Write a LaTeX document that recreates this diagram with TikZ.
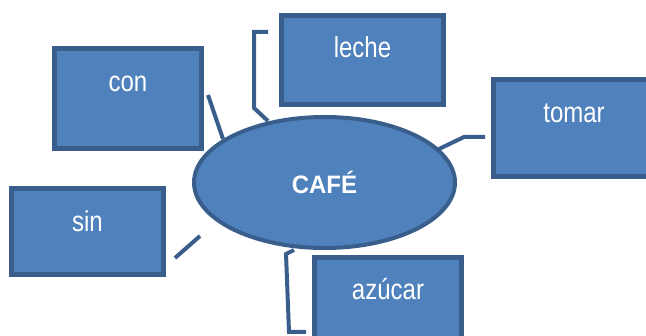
\documentclass[tikz,border=0pt]{standalone}
\usepackage{fontspec}
\usepackage{graphicx}
\setmainfont{Liberation Sans}
\usetikzlibrary{shapes.geometric}
\definecolor{fillblue}{HTML}{4F81BD}
\definecolor{edgeblue}{HTML}{3A5E8C}
\tikzset{
  box/.style={draw=edgeblue, fill=fillblue, line width=5pt, rectangle, inner sep=0pt, outer sep=0pt},
  hub/.style={draw=edgeblue, fill=fillblue, line width=4pt, ellipse, inner sep=0pt, outer sep=0pt,
              minimum width=261pt, minimum height=131pt},
  txt/.style={text=white, anchor=base, inner sep=0pt, font=\fontsize{24pt}{28pt}\selectfont},
  link/.style={draw=edgeblue, line width=4pt, line join=miter},
}
\begin{document}
\begin{tikzpicture}[x=1pt,y=-1pt]
\useasboundingbox (0,0) rectangle (646,336);
\clip (0,0) rectangle (646,336);
% connector points
\coordinate (c1) at (208,95);  \coordinate (c2) at (223,139);
\coordinate (l1) at (268,32);  \coordinate (l2) at (254,32);
\coordinate (l3) at (254,108); \coordinate (l4) at (268,121);
\coordinate (t1) at (485,137); \coordinate (t2) at (464,137);
\coordinate (t3) at (439,149);
\coordinate (s1) at (200,236); \coordinate (s2) at (175,258);
\coordinate (a1) at (294,250); \coordinate (a2) at (286,254);
\coordinate (a3) at (289,332); \coordinate (a4) at (306,332);
\draw[link] (c1) -- (c2);
\draw[link] (l1) -- (l2) -- (l3) -- (l4);
\draw[link] (t1) -- (t2) -- (t3);
\draw[link] (s1) -- (s2);
\draw[link] (a1) -- (a2) -- (a3) -- (a4);
% boxes
\node (con) [box, minimum width=147pt, minimum height=100pt] at (128,98.5) {};
\node (sin) [box, minimum width=152pt, minimum height=86pt] at (87.5,231.5) {};
\node (leche) [box, minimum width=162pt, minimum height=89pt] at (362.5,60) {};
\node (tomar) [box, minimum width=161pt, minimum height=97pt] at (574,128) {};
\node (azucar) [box, minimum width=147pt, minimum height=90pt] at (388,302.5) {};
\node (cafe) [hub] at (324.5,182.5) {};
% labels
\node (cont) [txt] at (128,92) {\scalebox{1}[1.2]{con}};
\node (sint) [txt] at (87.5,232) {\scalebox{1}[1.2]{sin}};
\node (lechet) [txt] at (362.5,58) {\scalebox{1}[1.2]{leche}};
\node (tomart) [txt] at (574,123) {\scalebox{1}[1.2]{tomar}};
\node (azucart) [txt] at (388,300) {\scalebox{1}[1.2]{azúcar}};
\node (cafet) [txt, font=\fontsize{24pt}{28pt}\selectfont\bfseries] at (324.5,194) {\scalebox{1}[1.05]{CAFÉ}};
\end{tikzpicture}
\end{document}
